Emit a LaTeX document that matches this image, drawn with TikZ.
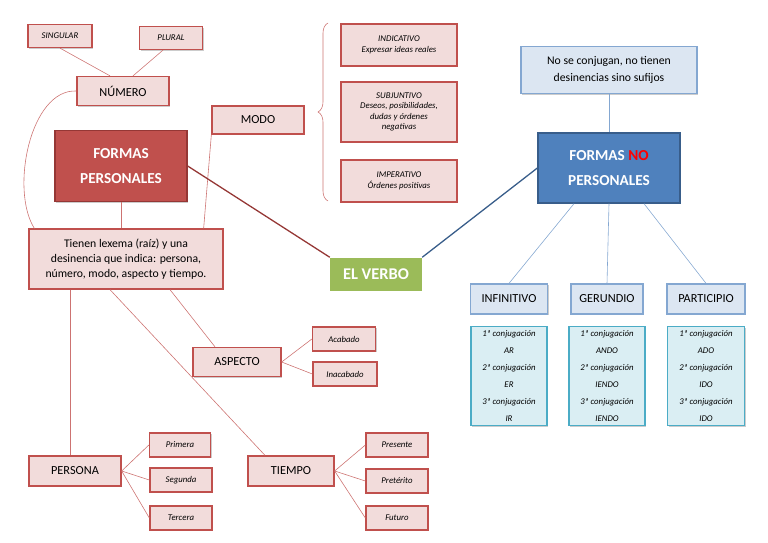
\documentclass[tikz,border=0pt]{standalone}
\usepackage{fontspec}
\setmainfont{Carlito}
\usetikzlibrary{shadows,decorations.pathreplacing}
\definecolor{rojo}{HTML}{C0504D}
\definecolor{rosa}{HTML}{F2DCDB}
\definecolor{rojoosc}{HTML}{953735}
\definecolor{azul}{HTML}{4F81BD}
\definecolor{azulosc}{HTML}{385D8A}
\definecolor{celeste}{HTML}{DCE6F2}
\definecolor{turq}{HTML}{4BACC6}
\definecolor{turqcl}{HTML}{DAEEF3}
\definecolor{verde}{HTML}{9BBB59}
\tikzset{
  caja/.style={draw=rojo, fill=rosa, line width=1.1pt, inner sep=1pt, align=center,
    drop shadow={shadow xshift=1pt, shadow yshift=-1pt, opacity=0.4}},
  chica/.style={caja, font=\fontsize{7.5}{9}\selectfont\itshape},
  etiq/.style={caja, font=\fontsize{10.5}{12}\selectfont},
  azulcaja/.style={draw=azul!70, fill=celeste, line width=1.1pt, align=center,
    drop shadow={shadow xshift=1pt, shadow yshift=-1pt, opacity=0.4}},
  conj/.style={draw=turq, fill=turqcl, line width=1.1pt, align=center,
    font=\fontsize{7.5}{14.5}\selectfont\itshape,
    drop shadow={shadow xshift=1pt, shadow yshift=-1pt, opacity=0.4}},
  lin/.style={draw=rojo!80, line width=0.5pt},
  linb/.style={draw=azul!70, line width=0.5pt}
}
\begin{document}
\begin{tikzpicture}[x=0.03cm, y=-0.03cm]
  \useasboundingbox (0,0) rectangle (768,543);
  % lado personal
  \node[chica, minimum width=64*0.03cm, minimum height=23*0.03cm] (sing) at (60,36) {SINGULAR};
  \node[chica, minimum width=63*0.03cm, minimum height=23*0.03cm] (plur) at (171,38) {PLURAL};
  \node[etiq, minimum width=92*0.03cm, minimum height=29*0.03cm] (num) at (123,91) {NÚMERO};
  \node[etiq, minimum width=92*0.03cm, minimum height=28*0.03cm] (modo) at (258,120) {MODO};
  \node[caja, draw=rojoosc, fill=rojo, text=white, font=\fontsize{13}{21}\selectfont\bfseries,
    minimum width=132*0.03cm, minimum height=71*0.03cm] (fp) at (121,166) {FORMAS\\PERSONALES};
  \node[caja, font=\fontsize{10}{13}\selectfont, minimum width=194*0.03cm, minimum height=60*0.03cm]
    (tienen) at (126,259) {Tienen lexema (raíz) y una\\desinencia que indica: persona,\\número, modo, aspecto y tiempo.};
  \node[chica, minimum width=116*0.03cm, minimum height=42*0.03cm] (ind) at (399,45) {INDICATIVO\\Expresar ideas reales};
  \node[chica, minimum width=116*0.03cm, minimum height=60*0.03cm] (subj) at (399,112) {SUBJUNTIVO\\Deseos, posibilidades,\\dudas y órdenes\\negativas};
  \node[chica, minimum width=116*0.03cm, minimum height=42*0.03cm] (imp) at (399,181) {IMPERATIVO\\Órdenes positivas};
  \node[draw=none, fill=verde, text=white, font=\fontsize{14}{16}\selectfont\bfseries,
    minimum width=92*0.03cm, minimum height=33*0.03cm] (verbo) at (376,274) {EL VERBO};
  \node[etiq, minimum width=88*0.03cm, minimum height=29*0.03cm] (asp) at (237,362) {ASPECTO};
  \node[chica, minimum width=63*0.03cm, minimum height=24*0.03cm] (acab) at (344,339) {Acabado};
  \node[chica, minimum width=64*0.03cm, minimum height=24*0.03cm] (inac) at (345,374) {Inacabado};
  \node[etiq, minimum width=92*0.03cm, minimum height=30*0.03cm] (pers) at (75,471) {PERSONA};
  \node[chica, minimum width=61*0.03cm, minimum height=24*0.03cm] (prim) at (180,445) {Primera};
  \node[chica, minimum width=62*0.03cm, minimum height=24*0.03cm] (seg) at (181,480) {Segunda};
  \node[chica, minimum width=62*0.03cm, minimum height=24*0.03cm] (terc) at (181,518) {Tercera};
  \node[etiq, minimum width=86*0.03cm, minimum height=30*0.03cm] (tiem) at (291,471) {TIEMPO};
  \node[chica, minimum width=62*0.03cm, minimum height=24*0.03cm] (pres) at (397,445) {Presente};
  \node[chica, minimum width=62*0.03cm, minimum height=24*0.03cm] (pret) at (397,481) {Pretérito};
  \node[chica, minimum width=62*0.03cm, minimum height=24*0.03cm] (fut) at (397,518) {Futuro};
  % lado no personal
  \node[azulcaja, font=\fontsize{10}{15}\selectfont, minimum width=176*0.03cm, minimum height=47*0.03cm]
    (nose) at (609,70) {No se conjugan, no tienen\\desinencias sino sufijos};
  \node[draw=azulosc, fill=azul, text=white, line width=1.1pt, align=center,
    font=\fontsize{13}{21}\selectfont\bfseries, minimum width=142*0.03cm, minimum height=70*0.03cm,
    drop shadow={shadow xshift=1pt, shadow yshift=-1pt, opacity=0.4}]
    (fnp) at (609,168) {FORMAS {\color{red}NO}\\PERSONALES};
  \node[azulcaja, font=\fontsize{10.5}{12}\selectfont, minimum width=77*0.03cm, minimum height=30*0.03cm] (inf) at (509,299) {INFINITIVO};
  \node[azulcaja, font=\fontsize{10.5}{12}\selectfont, minimum width=72*0.03cm, minimum height=30*0.03cm] (ger) at (607,299) {GERUNDIO};
  \node[azulcaja, font=\fontsize{10.5}{12}\selectfont, minimum width=78*0.03cm, minimum height=30*0.03cm] (part) at (706,299) {PARTICIPIO};
  \node[conj, minimum width=76*0.03cm, minimum height=98*0.03cm] (cinf) at (509,376) {1ª conjugación\\AR\\2ª conjugación\\ER\\3ª conjugación\\IR};
  \node[conj, minimum width=76*0.03cm, minimum height=98*0.03cm] (cger) at (607,376) {1ª conjugación\\ANDO\\2ª conjugación\\IENDO\\3ª conjugación\\IENDO};
  \node[conj, minimum width=77*0.03cm, minimum height=98*0.03cm] (cpart) at (706,376) {1ª conjugación\\ADO\\2ª conjugación\\IDO\\3ª conjugación\\IDO};
  % conectores
  \draw[lin] (sing.south) -- ([xshift=-13*0.03cm]num.north);
  \draw[lin] ([xshift=-8*0.03cm]plur.south) -- ([xshift=10*0.03cm]num.north);
  \draw[lin] (num.west) .. controls (30,89) and (10,190) .. ([xshift=6*0.03cm]tienen.north west);
  \draw[lin] (modo.south west) -- ([xshift=-20*0.03cm]tienen.north east);
  \draw[lin] (fp.south) -- (fp.south |- tienen.north);
  \draw[draw=rojoosc, line width=1.1pt] (fp.east) -- (verbo.north west);
  \draw[draw=azulosc, line width=1.1pt] (verbo.north east) -- (fnp.west);
  \draw[lin, decorate, decoration={brace, amplitude=10*0.03cm}] (328,201) -- (328,23);
  \draw[linb] (nose.south) -- (fnp.north);
  \draw[linb] ([xshift=-35*0.03cm]fnp.south) -- (inf.north);
  \draw[linb] (fnp.south) -- (ger.north);
  \draw[linb] ([xshift=35*0.03cm]fnp.south) -- (part.north);
  \draw[lin] ([xshift=-56*0.03cm]tienen.south) -- ([xshift=-5*0.03cm]pers.north);
  \draw[lin] ([xshift=-16*0.03cm]tienen.south) -- ([xshift=-26*0.03cm]tiem.north);
  \draw[lin] ([xshift=44*0.03cm]tienen.south) -- ([xshift=-22*0.03cm]asp.north);
  \foreach \d in {acab, inac} \draw[lin] (asp.east) -- (\d.west);
  \foreach \d in {prim, seg, terc} \draw[lin] (pers.east) -- (\d.west);
  \foreach \d in {pres, pret, fut} \draw[lin] (tiem.east) -- (\d.west);
\end{tikzpicture}
\end{document}
